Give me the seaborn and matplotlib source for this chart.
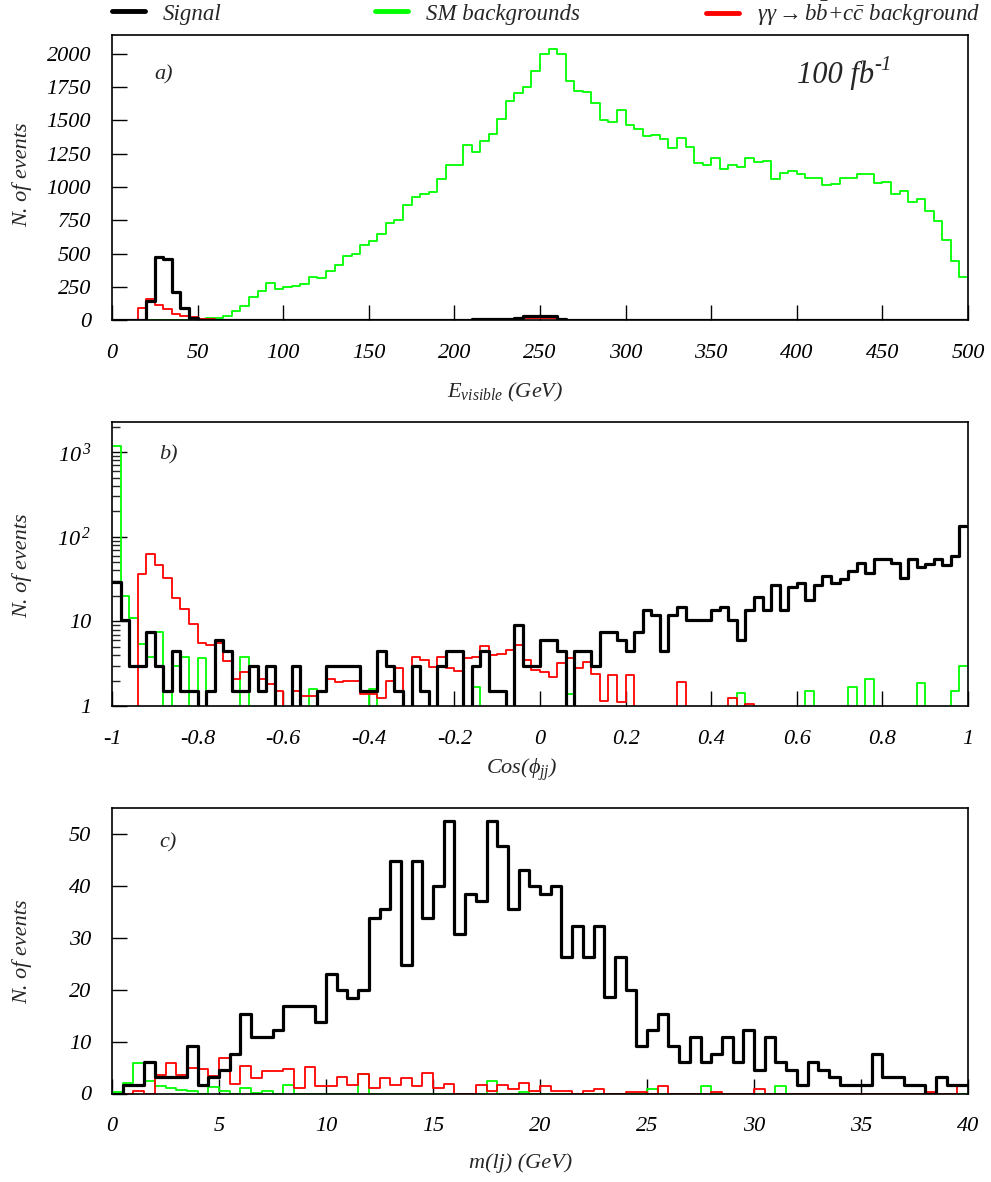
import numpy as np
import matplotlib
matplotlib.use("Agg")
import matplotlib.pyplot as plt
from matplotlib.lines import Line2D
import seaborn as sns

# bin edges of the three histograms
e_edges = np.linspace(0, 500, 101)
cos_edges = np.linspace(-1, 1, 101)
m_edges = np.linspace(0, 40, 81)

# a) visible energy (5 GeV bins)
evis_signal = [0, 0, 0, 0, 146, 474, 461, 214, 96, 21,
               5, 2, 2, 1, 1, 1, 0, 0, 0, 0,
               0, 0, 0, 0, 0, 0, 0, 0, 0, 0,
               0, 0, 0, 0, 1, 2, 3, 3, 4, 4,
               5, 7, 8, 8, 8, 9, 10, 22, 35, 36,
               36, 35, 9, 4, 3, 2, 2, 1, 0, 0,
               0, 0, 0, 0, 0, 0, 0, 0, 0, 0,
               0, 0, 0, 0, 0, 0, 0, 0, 0, 0,
               0, 0, 0, 0, 0, 0, 0, 0, 0, 0,
               0, 0, 0, 0, 0, 0, 0, 0, 0, 0]
evis_sm = [0, 0, 0, 0, 2, 3, 4, 5, 6, 8,
           13, 21, 21, 34, 74, 111, 174, 224, 279, 239,
           254, 259, 275, 324, 316, 368, 418, 487, 496, 566,
           599, 646, 733, 750, 868, 928, 950, 966, 1058, 1166,
           1166, 1313, 1261, 1348, 1396, 1513, 1648, 1703, 1753, 1868,
           1998, 2038, 1998, 1798, 1720, 1713, 1633, 1503, 1486, 1576,
           1466, 1436, 1386, 1391, 1358, 1291, 1371, 1303, 1183, 1166,
           1216, 1136, 1166, 1153, 1221, 1191, 1198, 1061, 1108, 1123,
           1098, 1066, 1066, 1018, 1023, 1071, 1068, 1096, 1096, 1031,
           1041, 946, 973, 891, 908, 821, 746, 601, 444, 326]
evis_gg = [0, 0, 0, 91, 159, 116, 84, 49, 34, 24,
           14, 8, 5, 4, 3, 3, 2, 2, 1, 1,
           1, 1, 1, 1, 1, 1, 1, 1, 1, 1,
           3, 4, 4, 5, 5, 4, 4, 3, 3, 4,
           5, 6, 6, 7, 7, 8, 10, 14, 16, 17,
           17, 15, 8, 5, 5, 4, 4, 4, 3, 3,
           0, 0, 0, 0, 0, 0, 0, 0, 0, 0,
           0, 0, 0, 0, 0, 0, 0, 0, 0, 0,
           0, 0, 0, 0, 0, 0, 0, 0, 0, 0,
           0, 0, 0, 0, 0, 0, 0, 0, 0, 0]

# b) cos of the jet-jet angle (0.02 bins)
cos_signal = [29, 10.5, 3, 3, 7.5, 3, 1.5, 4.5, 1.5, 1.5,
              0, 1.5, 6, 4.5, 1.5, 1.5, 3, 1.5, 3, 0,
              0, 3, 0, 0, 1.5, 3, 3, 3, 3, 1.5,
              1.5, 4.5, 3, 1.5, 0, 3, 1.5, 0, 3, 4.5,
              4.5, 0, 3, 4.5, 1.5, 1.5, 0, 9, 3, 3,
              6, 6, 4.5, 0, 4.5, 4.5, 3, 7.5, 7.5, 6,
              4.5, 7.5, 13.5, 12, 4.5, 12, 15, 10.5, 10.5, 10.5,
              13.5, 15, 10.5, 6, 13.5, 19.5, 13.5, 27, 13.5, 25.5,
              28.5, 18, 27, 34.5, 28.5, 31.5, 39, 49.5, 37.5, 54,
              54, 49.5, 33, 54, 43.5, 48, 54, 46.5, 58.5, 136]
cos_sm = [1190, 20, 11, 5.4, 3.8, 7.5, 0, 3, 3.8, 0,
          3.7, 0, 0, 0, 0, 3.8, 0, 0, 0, 0,
          0, 0, 0, 1.6, 0, 0, 0, 0, 0, 0,
          1.6, 0, 0, 0, 0, 0, 0, 0, 0, 0,
          0, 0, 1.66, 0, 0, 0, 0, 0, 0, 0,
          0, 0, 0, 1.4, 0, 0, 0, 0, 0, 0,
          0, 0, 0, 0, 0, 0, 0, 0, 0, 0,
          0, 0, 0, 1.44, 0, 0, 0, 0, 0, 0,
          0, 1.52, 0, 0, 0, 0, 1.66, 0, 2.07, 0,
          0, 0, 0, 0, 1.86, 0, 0, 0, 1.52, 3.0]
cos_gg = [0, 0, 0, 36.5, 63, 46, 33, 19, 14, 9.4,
          5.5, 5.3, 5.5, 3.4, 2.1, 2.5, 3, 2.1, 1.8, 1.5,
          0, 1.5, 1.3, 1.3, 1.5, 2.1, 1.9, 2.0, 2.0, 1.4,
          1.4, 1.25, 2.0, 2.8, 0, 3.8, 3.5, 2.9, 3.8, 2.8,
          2.6, 3.7, 3.8, 5.1, 4.0, 4.1, 4.6, 5.2, 3.5, 2.7,
          2.5, 2.2, 3.2, 3.7, 2.8, 3.3, 2.4, 1.15, 2.3, 1.1,
          2.3, 0, 0, 0, 0, 0, 1.9, 0, 0, 0,
          0, 0, 1.25, 0, 1.05, 0, 0, 0, 0, 0,
          0, 0, 0, 0, 0, 0, 0, 0, 0, 0,
          0, 0, 0, 0, 0, 0, 0, 0, 0, 0]

# c) lepton-jet invariant mass (0.5 GeV bins)
mlj_signal = [0, 1.6, 1.6, 6.15, 3.1, 3.1, 3.1, 9.2, 1.6, 3.1,
              4.6, 7.7, 15.4, 10.8, 10.8, 12.3, 16.9, 16.9, 16.9, 13.8,
              23.1, 20, 18.4, 20, 33.9, 35.5, 44.7, 24.7, 44.7, 33.9,
              40, 52.4, 30.8, 38.5, 37, 52.4, 47.7, 35.5, 43.1, 40,
              38.5, 40, 26.3, 32.3, 26.3, 32.3, 18.5, 26.3, 20, 9.2,
              12.3, 15.4, 9.2, 6.15, 10.8, 6.15, 7.7, 10.8, 6.15, 12.3,
              4.6, 10.8, 6.15, 4.6, 1.6, 6.15, 4.6, 3.1, 1.6, 1.6,
              1.6, 7.7, 3.1, 3.1, 1.6, 1.6, 0, 3.1, 1.6, 1.6]
mlj_sm = [0.3, 2.0, 5.9, 2.4, 1.5, 1.1, 0.6, 0.4, 0, 1.2,
          0.4, 0, 1.1, 0.1, 0.4, 0, 1.7, 0, 0, 0,
          0, 0, 0, 3.8, 0, 0, 0, 0, 0, 0,
          0, 0, 0, 0, 0, 2.4, 0, 0, 0.2, 0,
          0, 0, 0, 0, 0, 0, 0, 0, 0, 0,
          0.8, 0, 0, 0, 0, 1.5, 0, 0, 0, 0,
          0, 0, 1.5, 0, 0, 0, 0, 0, 0, 0,
          0, 0, 0, 0, 0, 0, 0, 0, 0, 0]
mlj_gg = [0, 0, 0.4, 0, 3.6, 5.9, 3.5, 4.9, 4.8, 3.4,
          6.9, 1.9, 5.3, 2.9, 4.4, 4.3, 4.8, 1.1, 5.1, 1.4,
          1.4, 3.1, 1.7, 3.7, 1.1, 2.9, 1.7, 3.0, 1.4, 4.0,
          1.1, 1.9, 0, 0, 1.7, 0.4, 1.7, 0.8, 2.0, 0.5,
          1.5, 0.4, 0.5, 0, 0.5, 0.8, 0, 0, 0.2, 0.2,
          0, 1.5, 0, 0, 0, 0, 0.2, 0, 0, 0,
          0.8, 0, 0, 0, 0, 0, 0, 0, 0, 0,
          0, 0, 0, 0, 0, 0, 0.2, 0, 0, 1.7]

GREEN = "#00ff00"
RED = "#ff0000"
FS = 16

sns.set_style("ticks")
plt.rcParams["font.family"] = ["Liberation Serif", "DejaVu Serif"]
plt.rcParams["font.style"] = "italic"
plt.rcParams["mathtext.fontset"] = "custom"
plt.rcParams["mathtext.it"] = "Liberation Serif:italic"
plt.rcParams["mathtext.rm"] = "Liberation Serif:italic"
plt.rcParams["mathtext.default"] = "it"
plt.rcParams["axes.unicode_minus"] = False


def draw_hist(ax, edges, vals, color, lw, floor=None):
    centers = (edges[:-1] + edges[1:]) / 2
    w = np.asarray(vals, dtype=float)
    if floor is not None:
        w = np.maximum(w, floor)
    sns.histplot(x=centers, weights=w, bins=edges.tolist(), element="step",
                 fill=False, color=color, linewidth=lw, ax=ax)


def style_axis(ax):
    for s in ax.spines.values():
        s.set_linewidth(1.2)
        s.set_color("black")
    ax.tick_params(which="major", direction="in", length=10.8, width=1.0,
                   top=False, right=False, labelsize=FS, colors="black")
    ax.tick_params(axis="x", which="major", pad=17)
    ax.tick_params(axis="y", which="major", pad=15)
    ax.set_xlabel("")
    ax.set_ylabel("")


W, H = 991, 1182
fig = plt.figure(figsize=(W / 100, H / 100), dpi=100)

ax_a = fig.add_axes([112 / W, 1 - 320.5 / H, 856 / W, 285.5 / H])
ax_b = fig.add_axes([112 / W, 1 - 706 / H, 856 / W, 284 / H])
ax_c = fig.add_axes([112 / W, 1 - 1093.5 / H, 856 / W, 285.5 / H])

# panel a
draw_hist(ax_a, e_edges, evis_sm, GREEN, 1.3)
draw_hist(ax_a, e_edges, evis_gg, RED, 1.3)
draw_hist(ax_a, e_edges, evis_signal, "black", 2.3)
ax_a.set_xlim(0, 500)
ax_a.set_ylim(0, 2140)
ax_a.set_xticks(np.arange(0, 501, 50))
ax_a.set_yticks(np.arange(0, 2001, 250))
ax_a.minorticks_off()
style_axis(ax_a)
ax_a.text(0.05, 0.86, "a)", transform=ax_a.transAxes, fontsize=FS, va="center")
lumi = ax_a.text(0.80, 0.86, "100 fb", transform=ax_a.transAxes, fontsize=22,
                 va="center")
ax_a.annotate("-1", xy=(1.0, 0.5), xycoords=lumi, fontsize=15, va="bottom")

# panel b
draw_hist(ax_b, cos_edges, cos_sm, GREEN, 1.3, floor=0.5)
draw_hist(ax_b, cos_edges, cos_gg, RED, 1.3, floor=0.5)
draw_hist(ax_b, cos_edges, cos_signal, "black", 2.3, floor=0.5)
ax_b.set_yscale("log")
ax_b.set_xlim(-1, 1)
ax_b.set_ylim(1, 2275)
cos_ticks = np.round(np.arange(-1, 1.01, 0.2), 1)
ax_b.set_xticks(cos_ticks)
ax_b.set_xticklabels(["-1", "-0.8", "-0.6", "-0.4", "-0.2", "0",
                      "0.2", "0.4", "0.6", "0.8", "1"])
ax_b.set_yticks([1, 10, 100, 1000])
ax_b.set_yticklabels(["1", "10", r"$10^{\,2}$", r"$10^{\,3}$"])
style_axis(ax_b)
ax_b.tick_params(axis="y", which="minor", direction="in", length=5.8, width=1.0,
                 right=False)
ax_b.tick_params(axis="x", which="minor", bottom=False)
ax_b.text(0.055, 0.885, "b)", transform=ax_b.transAxes, fontsize=FS, va="center")

# panel c
draw_hist(ax_c, m_edges, mlj_sm, GREEN, 1.3)
draw_hist(ax_c, m_edges, mlj_gg, RED, 1.3)
draw_hist(ax_c, m_edges, mlj_signal, "black", 2.3)
ax_c.set_xlim(0, 40)
ax_c.set_ylim(0, 55)
ax_c.set_xticks(np.arange(0, 41, 5))
ax_c.set_yticks(np.arange(0, 51, 10))
ax_c.minorticks_off()
style_axis(ax_c)
ax_c.text(0.055, 0.877, "c)", transform=ax_c.transAxes, fontsize=FS, va="center")

# axis titles
fig.text(505 / W, 1 - 392 / H, r"$E_{visible}$ (GeV)", ha="center", va="center",
         fontsize=FS)
fig.text(522 / W, 1 - 770 / H, r"Cos($\phi_{jj}$)", ha="center", va="center",
         fontsize=FS)
fig.text(521 / W, 1 - 1163 / H, "m(lj) (GeV)", ha="center", va="center",
         fontsize=FS)
for yc in (175, 566, 952):
    fig.text(22 / W, 1 - yc / H, "N. of events", rotation=90, ha="center",
             va="center", fontsize=FS)

# legend row on top
entries = [("black", "Signal", 112),
           (GREEN, "SM backgrounds", 375),
           (RED, r"$\gamma\gamma \rightarrow b\bar{b}$+$c\bar{c}$ background", 706)]
for col, lab, x0 in entries:
    h = Line2D([], [], color=col, lw=3.5)
    fig.legend([h], [lab], loc="center left", bbox_to_anchor=(x0 / W, 1 - 14 / H),
               frameon=False, fontsize=16.5, handlelength=1.43, handletextpad=0.78,
               borderpad=0, borderaxespad=0)

fig.savefig("out.png", dpi=100)
